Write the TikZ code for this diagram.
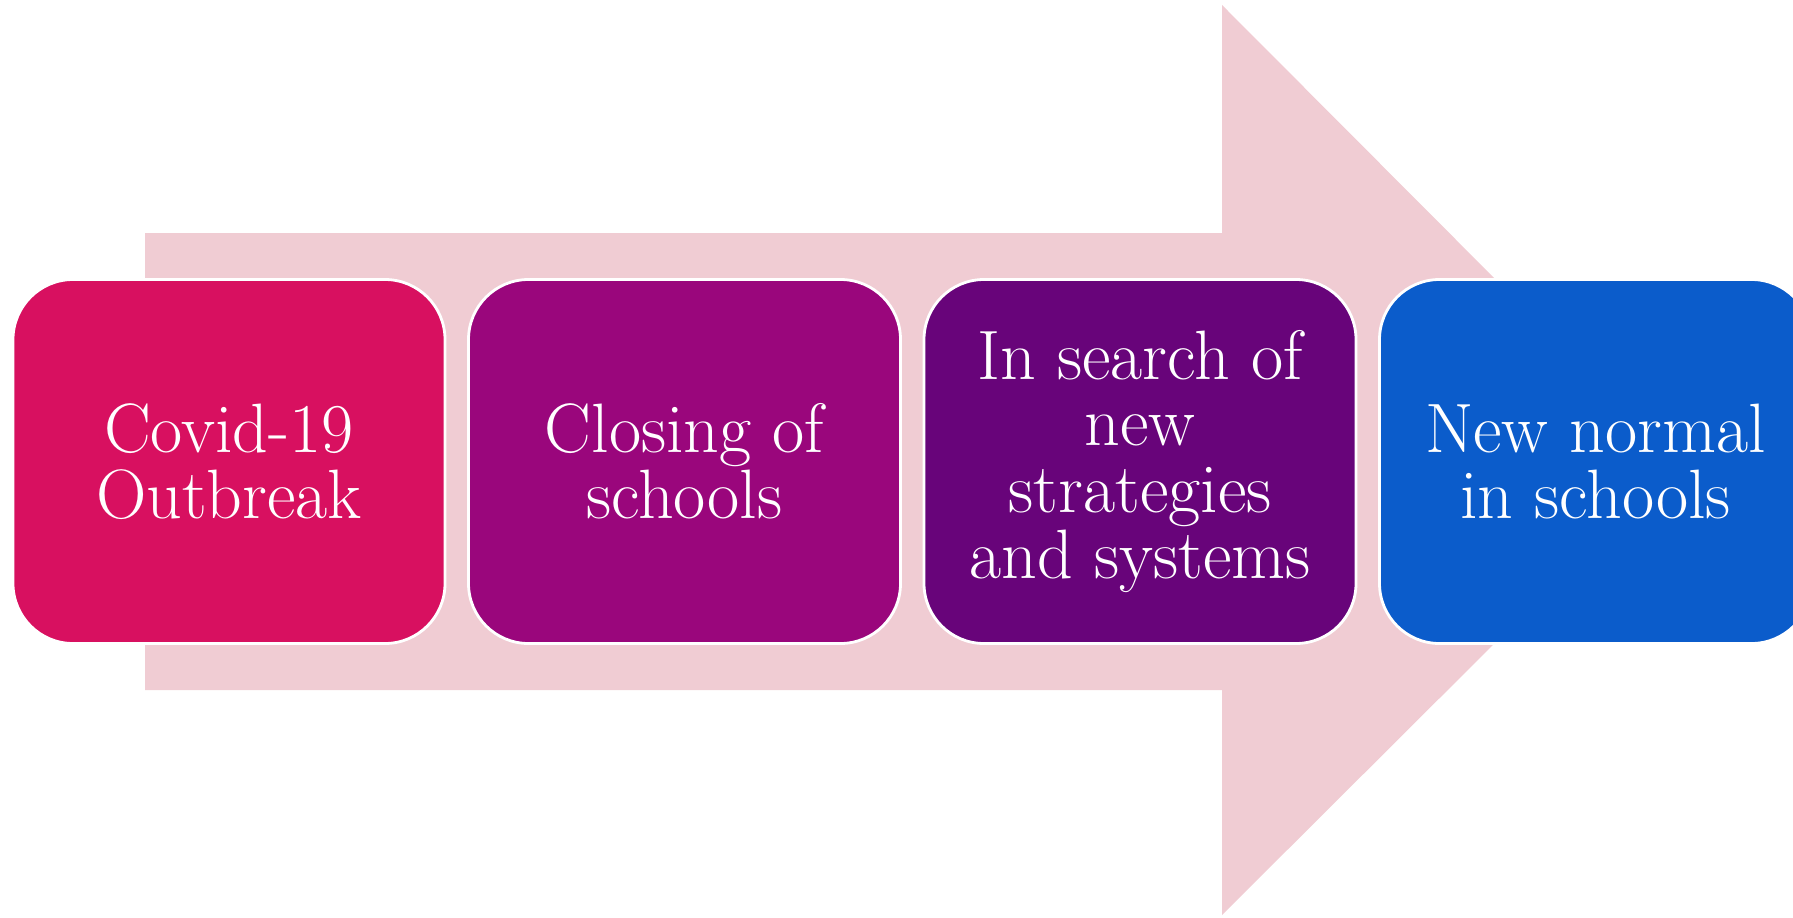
\documentclass[tikz,border=0pt]{standalone}
\usepackage{fontspec}
\usepackage{tikz}
\definecolor{arrowpink}{RGB}{240,204,211}
\definecolor{outbreak}{RGB}{216,16,96}
\definecolor{closing}{RGB}{154,6,124}
\definecolor{search}{RGB}{104,4,122}
\definecolor{newnormal}{RGB}{11,92,203}
\tikzstyle{stage}=[rectangle,rounded corners=6mm,draw=white,line width=0.8pt,text=white,minimum width=4.32cm,minimum height=3.64cm,align=center,font=\fontsize{19.9}{18.9}\selectfont]
\tikzstyle{backarrow}=[fill=arrowpink]

\begin{document}
\begin{tikzpicture}
  \def\sep{4.555};
  \def\ymid{4.555};
  \useasboundingbox (0,0) rectangle (17.93,9.17);
  \clip (0,0) rectangle (17.93,9.17);
  % big arrow behind the stages
  \fill[backarrow] (1.45,\ymid+2.285) -- (12.22,\ymid+2.285) -- (12.22,9.12)
    -- (16.77,\ymid) -- (12.22,0.02) -- (12.22,\ymid-2.285)
    -- (1.45,\ymid-2.285) -- cycle;

  \node[stage, fill=outbreak] (1 stage) at (2.29, \ymid) {Covid-19\\Outbreak};
  \node[stage, fill=closing] (2 stage) at (2.29+\sep, \ymid) {Closing of\\schools};
  \node[stage, fill=search] (3 stage) at (2.29+2*\sep, \ymid)
    {In search of\\new\\strategies\\and systems};
  \node[stage, fill=newnormal] (4 stage) at (2.29+3*\sep, \ymid)
    {New normal\\in schools};
\end{tikzpicture}
\end{document}
